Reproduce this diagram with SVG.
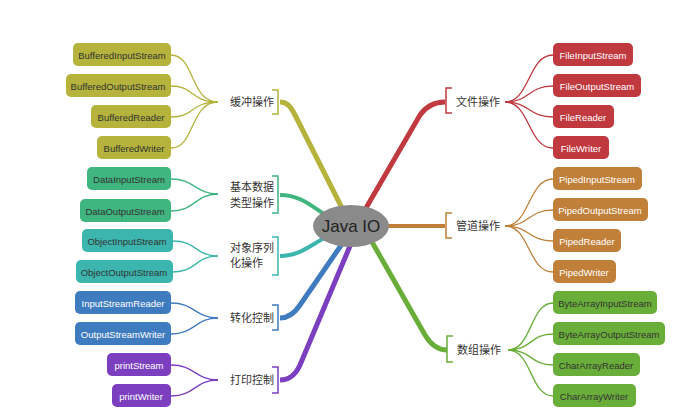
<svg xmlns="http://www.w3.org/2000/svg" width="677" height="420" viewBox="0 0 677 420">
<style>
text{font-family:"Liberation Sans","Noto Sans CJK SC",sans-serif}
.n{font-size:9.5px;text-anchor:middle;dominant-baseline:central}
.l{font-size:11px;fill:#333;dominant-baseline:central}
.br{fill:none;stroke-width:1.5}
.c{fill:none;stroke-width:1.3}
.w{fill:#fff}.d{fill:#333}
</style>
<rect width="677" height="420" fill="#fff"/>
<g id="connectors">
<path d="M342,208 L295,115 C290,105 286,102 280,102" stroke="#b5b33c" stroke-width="5" fill="none"/>
<path d="M330,218 C310,205 300,195 280,195" stroke="#3fb57f" stroke-width="4" fill="none"/>
<path d="M330,235 C310,245 300,256 280,256" stroke="#3bb5ad" stroke-width="4" fill="none"/>
<path d="M342,244 L300,305 C294,314 288,318 280,318" stroke="#3f7bbf" stroke-width="5" fill="none"/>
<path d="M350,246 L300,365 C295,376 288,380 280,380" stroke="#7b3fc0" stroke-width="5" fill="none"/>
<path d="M366,208 L420,115 C427,105 435,102 445,102" stroke="#c0393f" stroke-width="5" fill="none"/>
<path d="M388,226 L445,226" stroke="#c0803a" stroke-width="4" fill="none"/>
<path d="M372,242 L425,335 C431,345 438,350 447,350" stroke="#6aae3a" stroke-width="5" fill="none"/>
<path class="br" stroke="#b5b33c" d="M272,90 H278 V114 H272"/>
<path class="br" stroke="#3fb57f" d="M272,176 H278 V213 H272"/>
<path class="br" stroke="#3bb5ad" d="M272,237 H278 V275 H272"/>
<path class="br" stroke="#3f7bbf" d="M272,305 H278 V330 H272"/>
<path class="br" stroke="#7b3fc0" d="M272,367 H278 V393 H272"/>
<path class="br" stroke="#c0393f" d="M452,88 H446 V113 H452"/>
<path class="br" stroke="#c0803a" d="M452,213 H446 V238 H452"/>
<path class="br" stroke="#6aae3a" d="M453,336 H447 V362 H453"/>
<g stroke="#b5b33c" class="c">
<path d="M218,102 C190,102 195,55 171,55"/><path d="M218,102 C190,102 195,86 171,86"/>
<path d="M218,102 C190,102 195,117 171,117"/><path d="M218,102 C190,102 195,148 171,148"/></g>
<g stroke="#3fb57f" class="c"><path d="M218,194 C195,194 195,179 171,179"/><path d="M218,194 C195,194 195,211 171,211"/></g>
<g stroke="#3bb5ad" class="c"><path d="M218,256 C195,256 197,241 173,241"/><path d="M218,256 C195,256 197,272 173,272"/></g>
<g stroke="#3f7bbf" class="c"><path d="M218,318 C195,318 195,303 171,303"/><path d="M218,318 C195,318 195,334 171,334"/></g>
<g stroke="#7b3fc0" class="c"><path d="M218,380 C195,380 195,365 171,365"/><path d="M218,380 C195,380 195,396 171,396"/></g>
<g stroke="#c0393f" class="c">
<path d="M505,102 C530,102 528,55 553,55"/><path d="M505,102 C530,102 528,86 553,86"/>
<path d="M505,102 C530,102 528,117 553,117"/><path d="M505,102 C530,102 528,148 553,148"/></g>
<g stroke="#c0803a" class="c">
<path d="M505,226 C530,226 528,179 553,179"/><path d="M505,226 C530,226 528,210 553,210"/>
<path d="M505,226 C530,226 528,241 553,241"/><path d="M505,226 C530,226 528,272 553,272"/></g>
<g stroke="#6aae3a" class="c">
<path d="M508,350 C532,350 530,303 553,303"/><path d="M508,350 C532,350 530,334 553,334"/>
<path d="M508,350 C532,350 530,365 553,365"/><path d="M508,350 C532,350 530,396 553,396"/></g>
</g>
<g id="center"><ellipse cx="351" cy="226" rx="38" ry="21" fill="#8a8a8a"/><text x="351" y="226" font-size="17" text-anchor="middle" dominant-baseline="central" fill="#222">Java IO</text></g>
<g id="labels">
<text class="l" x="230" y="102">缓冲操作</text>
<text class="l" x="230" y="187">基本数据</text><text class="l" x="230" y="203">类型操作</text>
<text class="l" x="230" y="248">对象序列</text><text class="l" x="230" y="263">化操作</text>
<text class="l" x="230" y="318">转化控制</text>
<text class="l" x="230" y="380">打印控制</text>
<text class="l" x="456" y="102">文件操作</text>
<text class="l" x="456" y="226">管道操作</text>
<text class="l" x="457" y="350">数组操作</text>
</g>
<g id="n1"><rect x="73" y="43" width="98" height="23" rx="5" fill="#b5b33c"/><text class="n d" x="122" y="55">BufferedInputStream</text></g>
<g id="n2"><rect x="66" y="74" width="105" height="23" rx="5" fill="#b5b33c"/><text class="n d" x="118" y="86">BufferedOutputStream</text></g>
<g id="n3"><rect x="91" y="105" width="80" height="23" rx="5" fill="#b5b33c"/><text class="n d" x="131" y="117">BufferedReader</text></g>
<g id="n4"><rect x="97" y="136" width="74" height="23" rx="5" fill="#b5b33c"/><text class="n d" x="134" y="148">BufferedWriter</text></g>
<g id="n5"><rect x="87" y="167" width="84" height="23" rx="5" fill="#3fb57f"/><text class="n d" x="129" y="179">DataInputStream</text></g>
<g id="n6"><rect x="80" y="199" width="91" height="23" rx="5" fill="#3fb57f"/><text class="n d" x="125" y="211">DataOutputStream</text></g>
<g id="n7"><rect x="82" y="229" width="91" height="23" rx="5" fill="#3bb5ad"/><text class="n d" x="127" y="241">ObjectInputStream</text></g>
<g id="n8"><rect x="76" y="260" width="97" height="23" rx="5" fill="#3bb5ad"/><text class="n d" x="124" y="272">ObjectOutputStream</text></g>
<g id="n9"><rect x="75" y="291" width="96" height="23" rx="5" fill="#3f7bbf"/><text class="n w" x="123" y="303">InputStreamReader</text></g>
<g id="n10"><rect x="75" y="322" width="96" height="23" rx="5" fill="#3f7bbf"/><text class="n w" x="123" y="334">OutputStreamWriter</text></g>
<g id="n11"><rect x="107" y="353" width="64" height="23" rx="5" fill="#7b3fc0"/><text class="n w" x="139" y="365">printStream</text></g>
<g id="n12"><rect x="112" y="384" width="59" height="23" rx="5" fill="#7b3fc0"/><text class="n w" x="141" y="396">printWriter</text></g>
<g id="n13"><rect x="553" y="43" width="80" height="23" rx="5" fill="#c0393f"/><text class="n w" x="593" y="55">FileInputStream</text></g>
<g id="n14"><rect x="553" y="74" width="88" height="23" rx="5" fill="#c0393f"/><text class="n w" x="597" y="86">FileOutputStream</text></g>
<g id="n15"><rect x="553" y="105" width="61" height="23" rx="5" fill="#c0393f"/><text class="n w" x="583" y="117">FileReader</text></g>
<g id="n16"><rect x="553" y="136" width="56" height="23" rx="5" fill="#c0393f"/><text class="n w" x="581" y="148">FileWriter</text></g>
<g id="n17"><rect x="553" y="167" width="89" height="23" rx="5" fill="#c0803a"/><text class="n w" x="597" y="179">PipedInputStream</text></g>
<g id="n18"><rect x="553" y="198" width="95" height="23" rx="5" fill="#c0803a"/><text class="n w" x="600" y="210">PipedOutputStream</text></g>
<g id="n19"><rect x="553" y="229" width="68" height="23" rx="5" fill="#c0803a"/><text class="n w" x="587" y="241">PipedReader</text></g>
<g id="n20"><rect x="553" y="260" width="63" height="23" rx="5" fill="#c0803a"/><text class="n w" x="584" y="272">PipedWriter</text></g>
<g id="n21"><rect x="553" y="291" width="104" height="23" rx="5" fill="#6aae3a"/><text class="n d" x="605" y="303">ByteArrayInputStream</text></g>
<g id="n22"><rect x="553" y="322" width="112" height="23" rx="5" fill="#6aae3a"/><text class="n d" x="609" y="334">ByteArrayOutputStream</text></g>
<g id="n23"><rect x="553" y="353" width="87" height="23" rx="5" fill="#6aae3a"/><text class="n d" x="596" y="365">CharArrayReader</text></g>
<g id="n24"><rect x="553" y="384" width="83" height="23" rx="5" fill="#6aae3a"/><text class="n d" x="594" y="396">CharArrayWriter</text></g>
</svg>
